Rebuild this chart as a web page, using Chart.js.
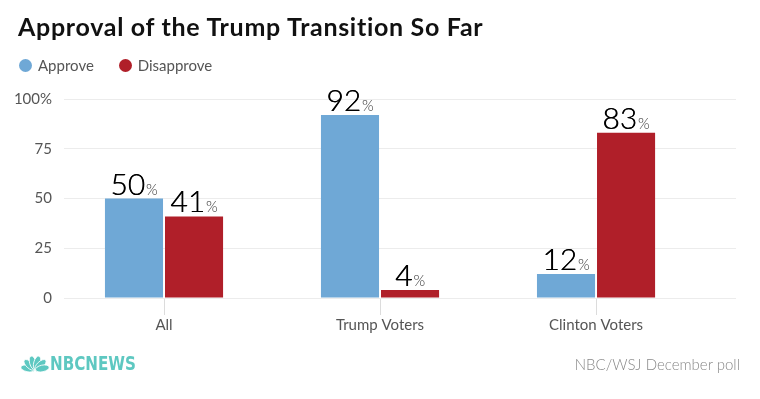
<!DOCTYPE html>
<html>
<head>
<meta charset="utf-8">
<title>Approval of the Trump Transition So Far</title>
<script src="https://cdn.jsdelivr.net/npm/chart.js@4/dist/chart.umd.min.js"></script>
<style>
  html, body { margin: 0; padding: 0; background: #fff; }
  body { width: 760px; height: 399px; position: relative; overflow: hidden; font-family: Lato, 'Open Sans', sans-serif; }
  .title { position: absolute; left: 18px; top: 11px; font-size: 25px; font-weight: 700; color: #111; white-space: nowrap; letter-spacing: 0.7px; }
  .legend { position: absolute; left: 19px; top: 54px; font-size: 15px; color: #555; }
  .legend span { display: inline-block; vertical-align: middle; }
  .legend .dot { width: 13px; height: 13px; border-radius: 50%; margin-right: 6px; }
  .legend .item { margin-right: 21px; }
  .chart-wrap { position: absolute; left: 0; top: 0; width: 760px; height: 399px; }
  .logo { position: absolute; left: 21px; top: 354px; }
  .source { position: absolute; right: 20px; top: 355px; font-size: 15px; font-weight: 300; color: #888; }
</style>
</head>
<body>
<div class="chart-wrap"><canvas id="chart"></canvas></div>
<div class="title">Approval of the Trump Transition So Far</div>
<div class="legend">
  <span class="dot" style="background:#6fa8d6"></span><span class="item">Approve</span>
  <span class="dot" style="background:#b01f29"></span><span>Disapprove</span>
</div>
<svg class="logo" width="118" height="18" viewBox="0 0 118 18">
  <g fill="#5ec8c1" stroke="#fff" stroke-width="0.8">
    <ellipse cx="14" cy="8.5" rx="3.3" ry="7" transform="rotate(-78 14 16)"/>
    <ellipse cx="14" cy="8.5" rx="3.3" ry="7" transform="rotate(-47 14 16)"/>
    <ellipse cx="14" cy="8.5" rx="3.3" ry="7" transform="rotate(-16 14 16)"/>
    <ellipse cx="14" cy="8.5" rx="3.3" ry="7" transform="rotate(16 14 16)"/>
    <ellipse cx="14" cy="8.5" rx="3.3" ry="7" transform="rotate(47 14 16)"/>
    <ellipse cx="14" cy="8.5" rx="3.3" ry="7" transform="rotate(78 14 16)"/>
  </g>
  <text x="29" y="16" fill="#5ec8c1" font-family="'Liberation Sans Narrow', 'DejaVu Sans Condensed', sans-serif" font-weight="700" font-size="19" textLength="86" lengthAdjust="spacingAndGlyphs">NBCNEWS</text>
</svg>
<div class="source">NBC/WSJ December poll</div>

<script>
// values
const CATEGORIES = ['All', 'Trump Voters', 'Clinton Voters'];
const APPROVE = [50, 92, 12];
const DISAPPROVE = [41, 4, 83];
const Y_TICKS = [0, 25, 50, 75, 100];

const BLUE = '#6fa8d6', RED = '#b01f29', GRID = '#ececec', TEXT = '#555';

// bar labels: big number with a small % after it
const valueLabels = {
  id: 'valueLabels',
  afterDatasetsDraw(chart) {
    const ctx = chart.ctx;
    const big = '300 30px Lato, sans-serif', small = '300 15px Lato, sans-serif';
    chart.data.datasets.forEach((ds, di) => {
      chart.getDatasetMeta(di).data.forEach((bar, i) => {
        const num = String(ds.data[i].y);
        ctx.save();
        ctx.fillStyle = '#000';
        ctx.textBaseline = 'alphabetic';
        ctx.textAlign = 'left';
        ctx.font = big;
        const nw = ctx.measureText(num).width;
        ctx.font = small;
        const pw = ctx.measureText('%').width;
        const x0 = bar.x - (nw + pw + 1) / 2;
        const yb = bar.y - 4;
        ctx.font = big;
        ctx.fillText(num, x0, yb);
        // second pass thickens the light strokes a little
        ctx.fillText(num, x0 + 0.4, yb);
        ctx.font = small;
        ctx.fillStyle = '#333';
        ctx.fillText('%', x0 + nw + 1, yb);
        ctx.restore();
      });
    });
  }
};

const toPoints = arr => arr.map((y, i) => ({ x: i, y }));

new Chart(document.getElementById('chart'), {
  type: 'bar',
  data: {
    datasets: [
      { label: 'Approve', data: toPoints(APPROVE), backgroundColor: BLUE },
      { label: 'Disapprove', data: toPoints(DISAPPROVE), backgroundColor: RED }
    ]
  },
  options: {
    responsive: true, maintainAspectRatio: false,
    animation: false,
    categoryPercentage: 0.556,
    barPercentage: 0.967,
    layout: { padding: { top: 99, right: 24, bottom: 0, left: 0 } },
    scales: {
      x: {
        type: 'linear',
        min: -0.463, max: 2.648,
        offset: false,
        afterFit: s => { s.height = 101; },
        border: { display: false },
        grid: { offset: false, drawOnChartArea: false, drawTicks: true, tickLength: 17, color: '#dcdcdc' },
        ticks: {
          stepSize: 1, includeBounds: false, padding: 1, maxRotation: 0,
          color: TEXT, font: { family: 'Lato', size: 15 },
          callback: v => CATEGORIES[v] ?? ''
        }
      },
      y: {
        min: 0, max: 100,
        afterFit: s => { s.width = 64; },
        afterBuildTicks: s => { s.ticks = Y_TICKS.map(v => ({ value: v })); },
        border: { display: false },
        grid: { color: GRID, drawTicks: false },
        ticks: {
          padding: 12, color: TEXT, font: { family: 'Lato', size: 15 },
          callback: v => v === 100 ? '100%' : v
        }
      }
    },
    plugins: { legend: { display: false }, tooltip: { enabled: false } }
  },
  plugins: [valueLabels]
});
</script>
</body>
</html>
